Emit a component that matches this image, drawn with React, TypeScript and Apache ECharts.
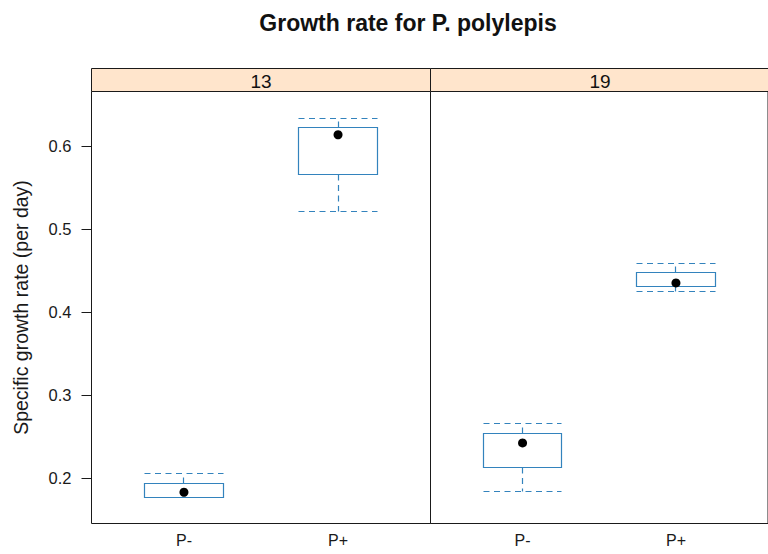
import React, { useEffect, useRef } from "react";
import * as echarts from "echarts";

// ---- data ----
const titleText = "Growth rate for P. polylepis";
const yAxisLabel = "Specific growth rate (per day)";
const panels = ["13", "19"];
const groups = ["P-", "P+"];
const yTicks = [0.2, 0.3, 0.4, 0.5, 0.6];
// per group: [lower whisker, Q1, median, Q3, upper whisker]
const stats13 = [
  [0.1762, 0.1768, 0.1826, 0.1928, 0.2048],
  [0.5209, 0.5659, 0.6141, 0.6234, 0.6334],
];
const stats19 = [
  [0.1838, 0.2121, 0.2422, 0.2534, 0.2651],
  [0.4244, 0.4304, 0.4352, 0.448, 0.4593],
];
const panelStats = [stats13, stats19];

// ---- style / layout ----
const FONT = "'Liberation Sans', Arial, Helvetica, sans-serif";
const BOX_COLOR = "#3383bd";
const FRAME = "#1a1a1a";
const STRIP_BG = "#ffe5cc";
const Y_MIN = 0.1449;
const Y_MAX = 0.6663;
const X_MIN = 0.4;
const X_MAX = 2.6;
const BOX_HALF = 0.256;
const PANEL_TOP = 91.5;
const PANEL_H = 432;
const PANEL_W = 339;
const PANEL_LEFT = [91.5, 430.5];
const STRIP_H = 23;
const DASH = [6, 4.5];

const px = (v: number) => Math.round(v - 0.5) + 0.5;

export default function App() {
  const ref = useRef<HTMLDivElement>(null);

  useEffect(() => {
    if (!ref.current) return;
    const chart = echarts.init(ref.current, undefined, { renderer: "svg" });

    const grids = panels.map((_, i) => ({
      left: PANEL_LEFT[i],
      top: PANEL_TOP,
      width: PANEL_W,
      height: PANEL_H,
      show: true,
      borderColor: FRAME,
      borderWidth: 1,
      backgroundColor: "transparent",
      containLabel: false,
    }));

    const xAxes = panels.map((_, i) => ({
      type: "value",
      gridIndex: i,
      min: X_MIN,
      max: X_MAX,
      splitLine: { show: false },
      axisLine: { show: false },
      axisTick: { show: false },
      axisLabel: {
        customValues: [1, 2],
        formatter: (v: number) => groups[Math.round(v) - 1] ?? "",
        fontFamily: FONT,
        fontSize: 16,
        color: "#1a1a1a",
        margin: 9,
      },
    }));

    const yAxes = panels.map((_, i) => ({
      type: "value",
      gridIndex: i,
      min: Y_MIN,
      max: Y_MAX,
      splitLine: { show: false },
      axisLine: { show: false },
      axisTick:
        i === 0
          ? { show: true, customValues: yTicks, length: 10, lineStyle: { color: FRAME, width: 1 } }
          : { show: false },
      axisLabel:
        i === 0
          ? {
              show: true,
              customValues: yTicks,
              formatter: (v: number) => v.toFixed(1),
              fontFamily: FONT,
              fontSize: 16.5,
              color: "#1a1a1a",
              margin: 20,
            }
          : { show: false },
      name: i === 0 ? yAxisLabel : "",
      nameLocation: "middle",
      nameGap: 61,
      nameRotate: 90,
      nameTextStyle: { fontFamily: FONT, fontSize: 19.5, color: "#1a1a1a" },
    }));

    const series: any[] = [];
    panels.forEach((_, i) => {
      const st = panelStats[i];
      series.push({
        type: "custom",
        xAxisIndex: i,
        yAxisIndex: i,
        data: st.map((s, gi) => [gi + 1, ...s]),
        encode: { x: 0, y: [1, 2, 3, 4, 5] },
        renderItem: (_p: any, api: any) => {
          const x = api.value(0);
          const lo = api.value(1);
          const q1 = api.value(2);
          const q3 = api.value(4);
          const hi = api.value(5);
          const pL = api.coord([x - BOX_HALF, q3]);
          const pR = api.coord([x + BOX_HALF, q1]);
          const pc = api.coord([x, q1]);
          const cx = px(pc[0]);
          const xL = px(pL[0]);
          const xR = px(pR[0]);
          const yQ1 = px(pR[1]);
          const yQ3 = px(pL[1]);
          const yLo = px(api.coord([x, lo])[1]);
          const yHi = px(api.coord([x, hi])[1]);
          const lineStyle = { stroke: BOX_COLOR, lineWidth: 1.2, lineDash: DASH };
          return {
            type: "group",
            children: [
              { type: "line", shape: { x1: cx, y1: yQ3, x2: cx, y2: yHi }, style: lineStyle },
              { type: "line", shape: { x1: cx, y1: yQ1, x2: cx, y2: yLo }, style: lineStyle },
              { type: "line", shape: { x1: xL, y1: yHi, x2: xR, y2: yHi }, style: lineStyle },
              { type: "line", shape: { x1: xL, y1: yLo, x2: xR, y2: yLo }, style: lineStyle },
              {
                type: "rect",
                shape: { x: xL, y: yQ3, width: xR - xL, height: yQ1 - yQ3 },
                style: { fill: "none", stroke: BOX_COLOR, lineWidth: 1.2 },
              },
            ],
          };
        },
        z: 2,
      });
      series.push({
        type: "scatter",
        xAxisIndex: i,
        yAxisIndex: i,
        data: st.map((s, gi) => [gi + 1, s[2]]),
        symbol: "circle",
        symbolSize: 9,
        itemStyle: { color: "#000", opacity: 1 },
        z: 3,
      });
    });

    const graphics: any[] = panels.map((p, i) => ({
      type: "group",
      children: [
        {
          type: "rect",
          shape: { x: PANEL_LEFT[i], y: PANEL_TOP - STRIP_H, width: PANEL_W, height: STRIP_H },
          style: { fill: STRIP_BG, stroke: FRAME, lineWidth: 1 },
        },
        {
          type: "text",
          x: PANEL_LEFT[i] + PANEL_W / 2,
          y: PANEL_TOP - STRIP_H / 2 + 1,
          style: {
            text: p,
            fontFamily: FONT,
            fontSize: 19,
            fill: "#111",
            textAlign: "center",
            textVerticalAlign: "middle",
          },
        },
      ],
    }));

    chart.setOption({
      animation: false,
      backgroundColor: "#fff",
      title: {
        text: titleText,
        left: 408,
        top: 11,
        padding: 0,
        textAlign: "center",
        textStyle: { fontFamily: FONT, fontSize: 23, fontWeight: "bold", color: "#111" },
      },
      grid: grids,
      xAxis: xAxes,
      yAxis: yAxes,
      series,
      graphic: graphics,
    });

    return () => chart.dispose();
  }, []);

  return (
    <div
      ref={ref}
      style={{ position: "absolute", left: 0, top: 0, width: 768, height: 554 }}
    />
  );
}
